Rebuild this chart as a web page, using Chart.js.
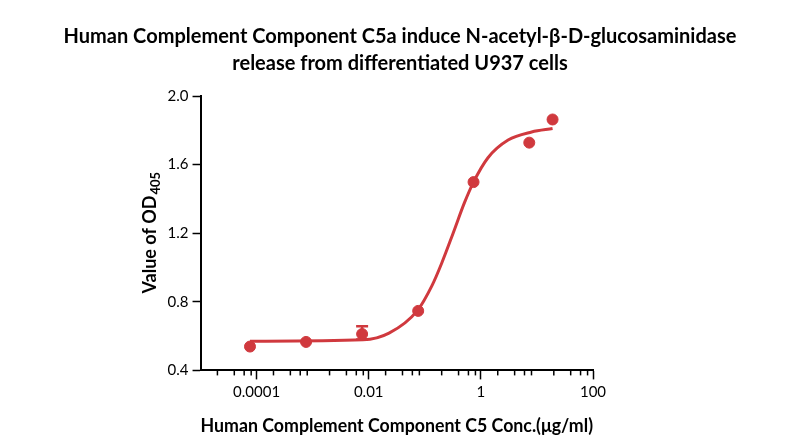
<!DOCTYPE html>
<html><head><script src="https://cdn.jsdelivr.net/npm/chart.js@4"></script>
<style>html,body{margin:0;background:#fff}#w{width:800px;height:441px}</style></head>
<body><div id="w"><canvas id="c" width="800" height="441"></canvas></div>
<script>
const conc=[0.0000762,0.000762,0.00762,0.0762,0.74,7.3,19];
const od=[0.539,0.566,0.612,0.747,1.498,1.728,1.863];
const errHigh=[null,null,0.657,null,null,null,null];
const errLow=[null,null,0.58,null,null,null,null];
const curveX=[0.0000762,0.0079,0.023,0.073,0.135,0.2,0.32,0.51,0.74,1.34,3.06,8.05,19];
const curveY=[0.57,0.578,0.617,0.747,0.896,1.025,1.20,1.378,1.498,1.64,1.743,1.79,1.81];
const xTicks=[0.0001,0.01,1,100];
const yTicks=[0.4,0.8,1.2,1.6,2.0];
const titleLines=['Human Complement Component C5a induce N-acetyl-β-D-glucosaminidase','release from differentiated U937 cells'];
const red='#d0393e';
const F='Lato';
const extras={id:'extras',afterDatasetsDraw(ch){
 const c=ch.ctx,x=ch.scales.x,y=ch.scales.y;
 c.save();c.strokeStyle=red;c.lineWidth=2.5;
 conc.forEach((v,i)=>{if(errHigh[i]==null)return;const px=x.getPixelForValue(v);
  c.beginPath();c.moveTo(px,y.getPixelForValue(errLow[i]));c.lineTo(px,y.getPixelForValue(errHigh[i]));
  c.moveTo(px-6,y.getPixelForValue(errHigh[i]));c.lineTo(px+6,y.getPixelForValue(errHigh[i]));
  c.moveTo(px-6,y.getPixelForValue(errLow[i]));c.lineTo(px+6,y.getPixelForValue(errLow[i]));c.stroke();});
 c.strokeStyle='#000';c.lineWidth=1.5;
 for(let e=-5;e<2;e++)[2,4,6,8].forEach(m=>{const px=x.getPixelForValue(m*Math.pow(10,e));
  c.beginPath();c.moveTo(px,y.bottom);c.lineTo(px,y.bottom+5);c.stroke();});
 c.fillStyle='#000';c.textAlign='center';c.textBaseline='middle';
 c.font='bold 20px '+F;
 c.fillText(titleLines[0],400,37);c.fillText(titleLines[1],400,64);
 // y title with subscript
 c.translate(150,(y.top+y.bottom)/2);c.rotate(-Math.PI/2);
 c.font='bold 18px '+F;const a='Value of OD';c.font='bold 18px '+F;const wa=c.measureText(a).width;
 c.font='bold 13px '+F;const wb=c.measureText('405').width;
 const x0=-(wa+wb)/2;c.textAlign='left';c.font='bold 18px '+F;c.fillText(a,x0,0);
 c.font='bold 13px '+F;c.fillText('405',x0+wa+1,6);
 c.restore();}};
new Chart(document.getElementById('c'),{
 type:'scatter',
 data:{datasets:[
  {data:conc.map((v,i)=>({x:v,y:od[i]})),backgroundColor:red,borderColor:red,pointRadius:5.5,order:0},
  {type:'line',data:curveX.map((v,i)=>({x:v,y:curveY[i]})),borderColor:red,borderWidth:3,pointRadius:0,cubicInterpolationMode:'monotone',fill:false,order:1}
 ]},
 options:{responsive:false,animation:false,
  layout:{padding:{left:128,right:207,top:96,bottom:0}},
  plugins:{legend:{display:false},tooltip:{enabled:false},title:{display:false}},
  scales:{
   x:{type:'logarithmic',min:0.00001,max:100,
    afterBuildTicks:s=>{s.ticks=xTicks.map(v=>({value:v}));},
    ticks:{callback:v=>({0.0001:'0.0001',0.01:'0.01',1:'1',100:'100'}[v]??''),font:{family:F,size:15},color:'#000',maxRotation:0,padding:4},
    grid:{display:true,drawOnChartArea:false,drawTicks:true,tickLength:9,tickWidth:1.5,color:'#000'},
    border:{color:'#000',width:2},
    title:{display:true,text:'Human Complement Component C5 Conc.(μg/ml)',font:{family:F,size:18,weight:'bold'},color:'#000',padding:{top:10}}},
   y:{min:0.4,max:2.0,
    afterBuildTicks:s=>{s.ticks=yTicks.map(v=>({value:v}));},
    ticks:{callback:v=>v.toFixed(1),font:{family:F,size:15},color:'#000',padding:4},
    grid:{display:true,drawOnChartArea:false,drawTicks:true,tickLength:8,tickWidth:1.5,color:'#000'},
    border:{color:'#000',width:2},
    title:{display:true,text:'Value of OD405',font:{family:F,size:18,weight:'bold'},color:'rgba(0,0,0,0)',padding:{bottom:10}}}
  }},
 plugins:[extras]});
</script></body></html>
